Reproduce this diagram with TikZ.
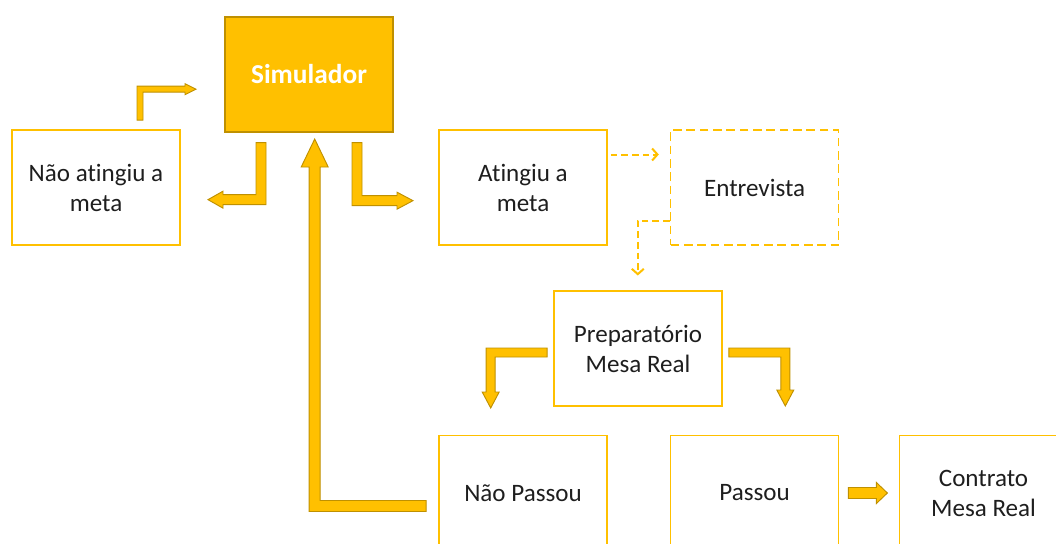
\documentclass[tikz,border=0pt]{standalone}
\usepackage{fontspec}
\setmainfont{Carlito}[Ligatures=NoCommon]
\usepackage{tikz}
\usetikzlibrary{arrows.meta,calc,positioning}

\definecolor{gold}{RGB}{255,192,0}
\definecolor{golddark}{RGB}{191,144,0}
\definecolor{txt}{RGB}{30,30,30}

\begin{document}
\begin{tikzpicture}[x=0.75pt,y=-0.75pt,
    box/.style={draw=gold,line width=1.2pt,minimum width=126pt,minimum height=86.25pt,
      align=center,text=txt,font=\fontsize{18.8}{22.5}\selectfont},
    dbox/.style={box,dash pattern=on 6.5pt off 3.5pt},
    blk/.style={fill=gold,draw=golddark,line width=0.7pt,line join=miter},
    dsh/.style={draw=gold,line width=1.5pt,dash pattern=on 5pt off 3pt,
      -{Straight Barb[length=4pt,width=9pt,line width=1.5pt]}}]
  \useasboundingbox (0,0) rectangle (1056,543);
  \clip (0,0) rectangle (1056,543);

  \node[box,fill=gold,draw=golddark,line width=1pt,text=white,
        font=\fontsize{20.5}{24}\selectfont\bfseries] (sim) at (309,74.5) {Simulador};
  \node[box]  (nao)   at (96,187.5)  {Não atingiu a\\meta};
  \node[box]  (ating) at (523,187.5) {Atingiu a\\meta};
  \node[dbox] (entr)  [right=46.5pt of ating] {Entrevista};
  \node[box]  (prep)  at (638,348.5) {Preparatório\\Mesa Real};
  \node[box]  (naop)  at (523,493)   {Não Passou};
  \node[box]  (pass)  [right=46.5pt of naop]  {Passou};
  \node[box]  (contr) [right=44.5pt of pass]  {Contrato\\Mesa Real};

  % block arrows
  \draw[blk] ($(nao.north)+(41,-9)$) -- ++(0,-34) -- ++(48,0) -- ++(0,-2.5) -- ++(11,5.5)
    -- ++(-11,5.5) -- ++(0,-2.5) -- ++(-42,0) -- ++(0,28) -- cycle;
  \draw[blk] ($(sim.south)+(-53,10)$) -- ++(10,0) -- ++(0,62) -- ++(-43,0) -- ++(0,3.5)
    -- ++(-15,-8.5) -- ++(15,-8.5) -- ++(0,3.5) -- ++(33,0) -- cycle;
  \draw[blk] ($(sim.south)+(43,10)$) -- ++(10,0) -- ++(0,53) -- ++(35,0) -- ++(0,-3.5)
    -- ++(16,8.5) -- ++(-16,8.5) -- ++(0,-3.5) -- ++(-45,0) -- cycle;
  \draw[blk] ($(naop.west)+(-12,7.5)$) -- ++(0,11) -- ++(-117,0) -- ++(0,-344.5) -- ++(-8,0)
    -- ++(13.5,-28) -- ++(13.5,28) -- ++(-8,0) -- ++(0,333.5) -- cycle;
  \draw[blk] ($(prep.west)+(-6,-0.5)$) -- ++(0,9) -- ++(-52,0) -- ++(0,35) -- ++(4,0)
    -- ++(-8.5,16) -- ++(-8.5,-16) -- ++(4,0) -- ++(0,-44) -- cycle;
  \draw[blk] ($(prep.east)+(6,-0.5)$) -- ++(61,0) -- ++(0,42) -- ++(4,0)
    -- ++(-8.5,16) -- ++(-8.5,-16) -- ++(4,0) -- ++(0,-33) -- ++(-52,0) -- cycle;
  \draw[blk] ($(pass.east)+(9,-5.5)$) -- ++(28,0) -- ++(0,-5) -- ++(11,10.5)
    -- ++(-11,10.5) -- ++(0,-5) -- ++(-28,0) -- cycle;

  % dashed arrows
  \draw[dsh] ($(ating.east)+(3,-33)$) -- ($(entr.west)+(-11,-33)$);
  \draw[dsh] ($(entr.west)+(0,33)$) -| ($(entr.west)+(-32,88)$);
\end{tikzpicture}
\end{document}
